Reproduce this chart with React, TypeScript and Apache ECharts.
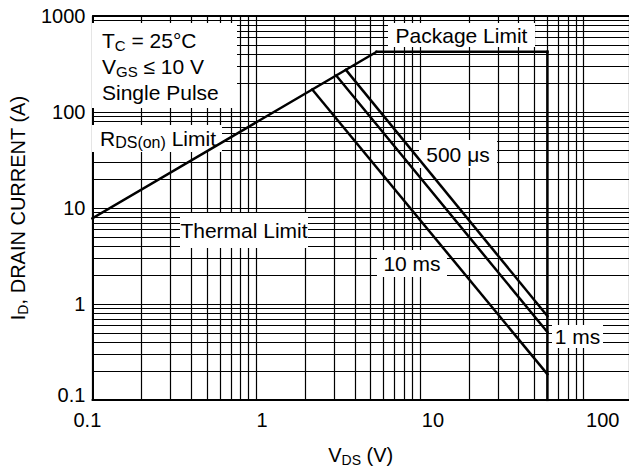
import React, { useEffect, useRef } from "react";
import * as echarts from "echarts";

// ---- tick labels ----
const xTickLabels = ["0.1", "1", "10", "100"];
const yTickLabels = ["0.1", "1", "10", "100", "1000"];

// ---- minor grid values (log paper) ----
const xMinorGrid = [0.2, 0.3, 0.4, 0.5, 0.6, 0.7, 0.8, 0.9, 2, 3, 4, 5, 6, 7, 8, 9, 20, 30, 40, 50, 60, 70, 80, 90];
const yMinorGrid = [0.2, 0.3, 0.4, 0.5, 0.6, 0.7, 0.8, 0.9, 2, 3, 4, 5, 6, 7, 8, 9, 20, 30, 40, 50, 60, 70, 80, 90, 200, 300, 400, 500, 600, 700, 800, 900];

// ---- SOA boundary (V_DS [V], I_D [A]) ----
const rdsOnLimit = [[0.1, 7.8], [5.43, 423]];
const packageLimit = [[5.43, 423], [60, 423]];
const voltageLimit = [[60, 423], [60, 0.1]];

// ---- single pulse limits ----
const pulse500us = [[3.53, 275], [60, 0.75]];
const pulse1ms = [[3.08, 240], [60, 0.51]];
const pulse10ms = [[2.2, 171.6], [60, 0.186]];

const FONT = "'Liberation Sans', Arial, Helvetica, sans-serif";

const xLabelPad: Record<string, number[]> = {
  p0: [0, 10, 0, 0],
  p1: [0, 0, 0, 12],
  p2: [0, 0, 0, 26],
  p3: [0, 0, 0, 38],
};
const yLabelPad: Record<string, number[]> = {
  q0: [0, 0, 10, 0],
  q1: [0, 0, 0, 0],
  q2: [0, 0, 0, 0],
  q3: [0, 0, 0, 0],
  q4: [0, 0, 0, 0],
};

function findLabel(labels: string[], v: number) {
  for (let i = 0; i < labels.length; i++) {
    const t = Number(labels[i]);
    if (Math.abs(v - t) / t < 1e-6) return i;
  }
  return -1;
}

function lineSeries(name: string, data: number[][]) {
  return {
    name,
    type: "line",
    data,
    symbol: "none",
    showSymbol: false,
    silent: true,
    z: 10,
    lineStyle: { color: "#000", width: 2.5, cap: "square" },
  };
}

const subRich = {
  m: { fontSize: 21, lineHeight: 26, fontFamily: FONT, fill: "#000", color: "#000" },
  s: { fontSize: 15, lineHeight: 16, verticalAlign: "bottom", fontFamily: FONT, fill: "#000", color: "#000" },
};

// annotation boxes (white box x, y, w, h in px) with text
const annotations: any[] = [
  {
    text: "{m|T}{s|C}{m| = 25°C}\n{m|V}{s|GS}{m| ≤ 10 V}\n{m|Single Pulse}",
    box: [92, 23, 145, 85], align: "left", tx: 102, ty: 27, vAlign: "top", rich: subRich,
  },
  {
    text: "{m|R}{s|DS(on)}{m| Limit}",
    box: [92, 125, 130, 27], align: "left", tx: 100, ty: 126, vAlign: "top",
    rich: { m: { ...subRich.m, lineHeight: 24 }, s: { ...subRich.s, fontSize: 16, lineHeight: 14 } },
  },
  { text: "Package Limit", box: [388, 23, 147, 24] },
  { text: "500 μs", box: [419, 140, 78, 28] },
  { text: "10 ms", box: [377, 250, 70, 27] },
  { text: "1 ms", box: [552, 325, 51, 23] },
  { text: "Thermal Limit", box: [180, 213, 128, 35] },
];

function renderAnnotation(params: any) {
  const a = annotations[params.dataIndex];
  const [bx, by, bw, bh] = a.box;
  const style: any = {
    text: a.text,
    fill: "#000",
    fontSize: 21,
    fontFamily: FONT,
    align: a.align || "center",
    verticalAlign: a.vAlign || "middle",
  };
  if (a.rich) style.rich = a.rich;
  return {
    type: "group",
    children: [
      {
        type: "rect",
        shape: { x: bx, y: by, width: bw, height: bh },
        style: { fill: "#fff" },
      },
      {
        type: "text",
        x: a.tx !== undefined ? a.tx : bx + bw / 2,
        y: a.ty !== undefined ? a.ty : by + bh / 2,
        style,
      },
    ],
  };
}

export default function App() {
  const ref = useRef<HTMLDivElement>(null);
  useEffect(() => {
    if (!ref.current) return;
    const chart = echarts.init(ref.current, undefined, { renderer: "svg" });
    const gridData: any[] = [
      ...xMinorGrid.map((v) => ({ xAxis: v })),
      ...yMinorGrid.map((v) => ({ yAxis: v })),
      { yAxis: 1000, lineStyle: { width: 2 } },
    ];
    const xRich: any = {};
    Object.keys(xLabelPad).forEach((k) => {
      xRich[k] = { padding: xLabelPad[k], fontSize: 20, fontFamily: FONT, color: "#000" };
    });
    const yRich: any = {};
    Object.keys(yLabelPad).forEach((k) => {
      yRich[k] = { padding: yLabelPad[k], fontSize: 20, fontFamily: FONT, color: "#000" };
    });
    chart.setOption({
      animation: false,
      backgroundColor: "#fff",
      textStyle: { fontFamily: FONT },
      grid: { left: 85, right: 0, top: 16, bottom: 71, containLabel: false },
      xAxis: {
        type: "log",
        logBase: 10,
        min: 0.1,
        max: 189,
        axisLine: { show: true, onZero: false, lineStyle: { color: "#000", width: 2 } },
        axisTick: { show: false },
        splitLine: { show: true, lineStyle: { color: "#000", width: 1.2 } },
        axisLabel: {
          margin: 10,
          showMaxLabel: false,
          fontSize: 20,
          color: "#000",
          fontFamily: FONT,
          formatter: (v: number) => {
            const i = findLabel(xTickLabels, v);
            return i < 0 ? "" : `{p${i}|${xTickLabels[i]}}`;
          },
          rich: xRich,
        },
        name: "{m|V}{s|DS}{m| (V)}",
        nameLocation: "middle",
        nameGap: 43,
        nameTextStyle: {
          fontFamily: FONT,
          color: "#000",
          fontSize: 20,
          rich: {
            m: { fontSize: 20, lineHeight: 24, fontFamily: FONT, color: "#000" },
            s: { fontSize: 14, lineHeight: 15, verticalAlign: "bottom", fontFamily: FONT, color: "#000" },
          },
        },
      },
      yAxis: {
        type: "log",
        logBase: 10,
        min: 0.1,
        max: 1000,
        axisLine: { show: true, onZero: false, lineStyle: { color: "#000", width: 2 } },
        axisTick: { show: false },
        splitLine: { show: true, lineStyle: { color: "#000", width: 1.2 } },
        axisLabel: {
          margin: 7,
          fontSize: 20,
          color: "#000",
          fontFamily: FONT,
          formatter: (v: number) => {
            const i = findLabel(yTickLabels, v);
            return i < 0 ? "" : `{q${i}|${yTickLabels[i]}}`;
          },
          rich: yRich,
        },
        name: "{m|I}{s|D}{m|, DRAIN CURRENT (A)}",
        nameLocation: "middle",
        nameRotate: 90,
        nameGap: 58,
        nameTextStyle: {
          fontFamily: FONT,
          color: "#000",
          fontSize: 20,
          rich: {
            m: { fontSize: 20, lineHeight: 24, fontFamily: FONT, color: "#000" },
            s: { fontSize: 14, lineHeight: 15, verticalAlign: "bottom", fontFamily: FONT, color: "#000" },
          },
        },
      },
      series: [
        {
          name: "grid",
          type: "line",
          data: [],
          z: 1,
          silent: true,
          markLine: {
            silent: true,
            symbol: ["none", "none"],
            animation: false,
            label: { show: false },
            lineStyle: { color: "#000", width: 1.2, type: "solid" },
            emphasis: { disabled: true },
            data: gridData,
          },
        },
        {
          name: "annotations",
          type: "custom",
          coordinateSystem: "none",
          silent: true,
          z: 5,
          data: annotations.map((_, i) => [i]),
          renderItem: renderAnnotation,
        },
        lineSeries("RDS(on) Limit", rdsOnLimit),
        lineSeries("Package Limit", packageLimit),
        lineSeries("V(BR)DSS Limit", voltageLimit),
        lineSeries("500 μs", pulse500us),
        lineSeries("1 ms", pulse1ms),
        lineSeries("10 ms", pulse10ms),
      ],
    });
    return () => chart.dispose();
  }, []);
  return (
    <div
      ref={ref}
      style={{ position: "fixed", left: 0, top: 0, width: 629, height: 472, background: "#fff" }}
    />
  );
}
